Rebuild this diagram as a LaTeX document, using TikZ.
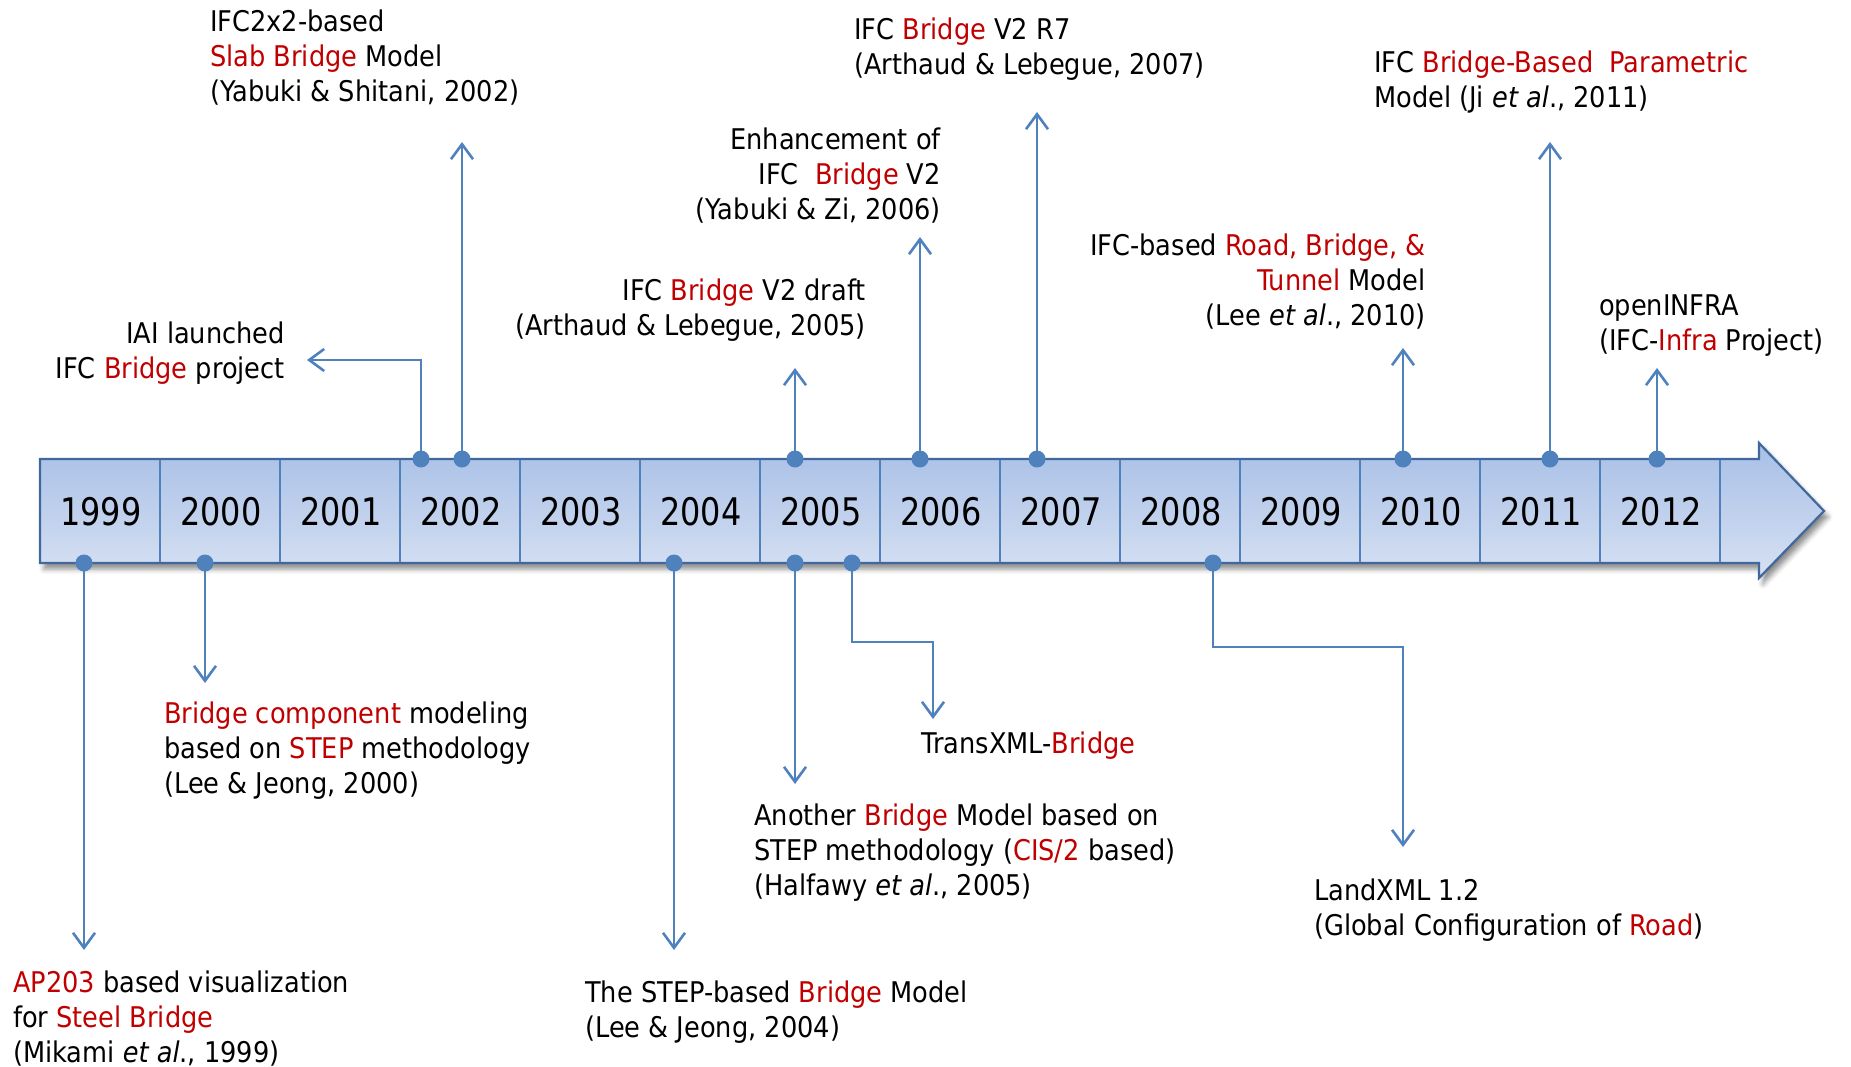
\documentclass[tikz,border=0pt]{standalone}
\usepackage{fontspec}
\setmainfont[FakeStretch=0.9]{DejaVu Sans}
\newfontfamily\yearfont[FakeStretch=0.84]{DejaVu Sans}
\usetikzlibrary{arrows.meta,shadows.blur}
\definecolor{lineblue}{HTML}{4F81BD}
\definecolor{barborder}{HTML}{41689C}
\definecolor{bartop}{HTML}{A7BFE6}
\definecolor{barbot}{HTML}{D7E1F3}
\definecolor{hlred}{HTML}{C00000}
\newcommand{\rd}[1]{\textcolor{hlred}{#1}}
\begin{document}
\begin{tikzpicture}[x=1pt,y=-1pt,
  conn/.style={draw=lineblue, line width=2.6pt,
    -{Straight Barb[length=15pt,width=22pt]}},
  dot/.style={circle, fill=lineblue, inner sep=0pt, minimum size=17pt},
  txt/.style={inner sep=0pt, font=\fontsize{28.5}{35}\selectfont},
  % multi-line nodes: the base anchor sits on the last line
  lefttxt/.style={txt, anchor=base west, align=left},
  righttxt/.style={txt, anchor=base east, align=right},
  yearlbl/.style={inner sep=0pt, font=\yearfont\fontsize{38}{40}\selectfont}]
\useasboundingbox (0,0) rectangle (1851,1067);

% timeline bar with arrow head
\path[draw=barborder, line width=2.2pt, top color=bartop, bottom color=barbot,
  blur shadow={shadow xshift=4pt, shadow yshift=-6pt, shadow blur radius=5pt, shadow opacity=45}]
  (40,459) -- (1759,459) -- (1759,443) -- (1824,511) -- (1759,578) -- (1759,563) -- (40,563) -- cycle;
\foreach \i in {1,...,14}
  \draw[lineblue, line width=2pt] ({40+120*\i},460) -- ({40+120*\i},562);
\foreach \yr [count=\i from 0] in {1999,...,2012}
  \node[yearlbl] (y\yr) at ({101+120*\i},512) {\yr};

% event markers on the bar
\node[dot] (d02a) at (421,459) {};
\node[dot] (d02b) at (462,459) {};
\node[dot] (d05t) at (795,459) {};
\node[dot] (d06)  at (920,459) {};
\node[dot] (d07)  at (1037,459) {};
\node[dot] (d10)  at (1403,459) {};
\node[dot] (d11)  at (1550,459) {};
\node[dot] (d12)  at (1657,459) {};
\node[dot] (d99)  at (84,563) {};
\node[dot] (d00)  at (205,563) {};
\node[dot] (d04)  at (674,563) {};
\node[dot] (d05b) at (795,563) {};
\node[dot] (d05c) at (852,563) {};
\node[dot] (d08)  at (1213,563) {};

% arrow end points
\coordinate (tIAI) at (307,360);
\coordinate (t02) at (462,142);
\coordinate (t05t) at (795,368);
\coordinate (t06) at (920,237);
\coordinate (t07) at (1037,112);
\coordinate (t10) at (1403,348);
\coordinate (t11) at (1550,142);
\coordinate (t12) at (1657,368);
\coordinate (t99) at (84,950);
\coordinate (t00) at (205,683);
\coordinate (t04) at (674,950);
\coordinate (t05b) at (795,784);
\coordinate (e05) at (933,642);
\coordinate (t05c) at (933,719);
\coordinate (e08) at (1403,647);
\coordinate (t08) at (1403,847);

% connectors
\draw[conn] (d02a.center) |- (tIAI);
\draw[conn] (d02b.center) -- (t02);
\draw[conn] (d05t.center) -- (t05t);
\draw[conn] (d06.center) -- (t06);
\draw[conn] (d07.center) -- (t07);
\draw[conn] (d10.center) -- (t10);
\draw[conn] (d11.center) -- (t11);
\draw[conn] (d12.center) -- (t12);
\draw[conn] (d99.center) -- (t99);
\draw[conn] (d00.center) -- (t00);
\draw[conn] (d04.center) -- (t04);
\draw[conn] (d05b.center) -- (t05b);
\draw[conn] (d05c.center) |- (e05) -- (t05c);
\draw[conn] (d08.center) |- (e08) -- (t08);

% event descriptions above the bar
\node[lefttxt] (n02b) at (210,102) {IFC2x2-based\\\rd{Slab Bridge} Model\\(Yabuki \& Shitani, 2002)};
\node[righttxt] (n02a) at (285,378) {IAI launched\\IFC \rd{Bridge} project};
\node[righttxt] (n05t) at (866,335) {IFC \rd{Bridge} V2 draft\\(Arthaud \& Lebegue, 2005)};
\node[righttxt] (n06) at (941,220) {Enhancement of\\IFC\ \ \rd{Bridge} V2\\(Yabuki \& Zi, 2006)};
\node[lefttxt] (n07) at (854,75) {IFC \rd{Bridge} V2 R7\\(Arthaud \& Lebegue, 2007)};
\node[righttxt] (n10) at (1426,325) {IFC-based \rd{Road, Bridge, \&}\\\rd{Tunnel} Model\\(Lee \textit{et al}., 2010)};
\node[lefttxt] (n11) at (1374,108) {IFC \rd{Bridge-Based\ \ Parametric}\\Model (Ji \textit{et al}., 2011)};
\node[lefttxt] (n12) at (1599,350) {openINFRA\\(IFC-\rd{Infra} Project)};

% event descriptions below the bar
\node[lefttxt] (n99) at (13,1062) {\rd{AP203} based visualization\\for \rd{Steel Bridge}\\(Mikami \textit{et al}., 1999)};
\node[lefttxt] (n00) at (164,793) {\rd{Bridge component} modeling\\based on \rd{STEP} methodology\\(Lee \& Jeong, 2000)};
\node[lefttxt] (n04) at (585,1037) {The STEP-based \rd{Bridge} Model\\(Lee \& Jeong, 2004)};
\node[lefttxt] (n05b) at (754,895) {Another \rd{Bridge} Model based on\\STEP methodology (\rd{CIS/2} based)\\(Halfawy \textit{et al}., 2005)};
\node[lefttxt] (n05c) at (921,753) {TransXML-\rd{Bridge}};
\node[lefttxt] (n08) at (1314,935) {LandXML 1.2\\(Global Configuration of \rd{Road})};
\end{tikzpicture}
\end{document}
